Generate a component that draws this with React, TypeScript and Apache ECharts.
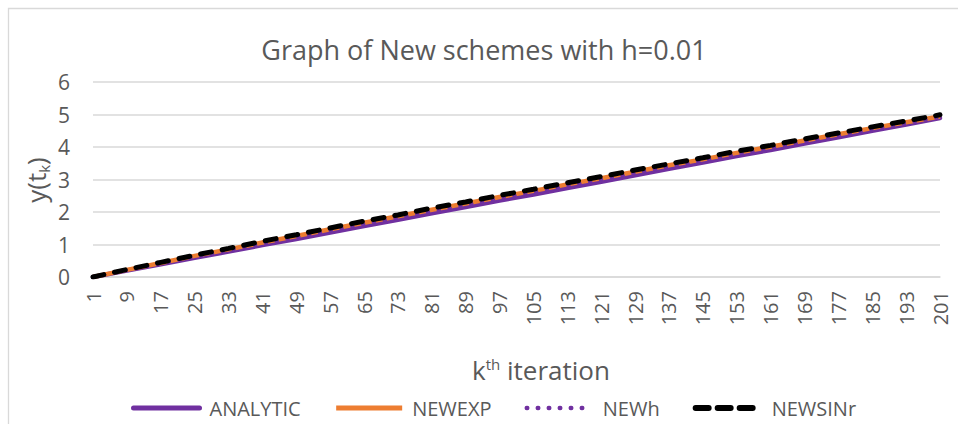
import React, { useEffect, useRef } from "react";
import * as echarts from "echarts";

// Iteration categories (k = 1 .. 201)
const CATEGORIES: string[] = Array.from({ length: 201 }, (_, i) => String(i + 1));

const SAMPLE_K: number[] = [1, 9, 17, 25, 33, 41, 49, 57, 65, 73, 81, 89, 97, 105, 113, 121, 129, 137, 145, 153, 161, 169, 177, 185, 193, 201];

const ANALYTIC: number[] = [0, 0.2, 0.39, 0.59, 0.78, 0.98, 1.17, 1.37, 1.57, 1.76, 1.96, 2.15, 2.35, 2.54, 2.74, 2.93, 3.13, 3.33, 3.52, 3.72, 3.91, 4.11, 4.3, 4.5, 4.69, 4.89];
const NEWEXP: number[] = [0, 0.22, 0.43, 0.65, 0.85, 1.06, 1.26, 1.47, 1.67, 1.87, 2.07, 2.26, 2.46, 2.65, 2.85, 3.04, 3.24, 3.44, 3.62, 3.82, 4.01, 4.2, 4.39, 4.58, 4.76, 4.94];
const NEWH: number[] = [0, 0.21, 0.41, 0.62, 0.82, 1.03, 1.22, 1.43, 1.63, 1.82, 2.02, 2.22, 2.42, 2.61, 2.81, 3.0, 3.19, 3.39, 3.58, 3.78, 3.97, 4.16, 4.35, 4.55, 4.73, 4.92];
const NEWSINR: number[] = [0, 0.23, 0.45, 0.67, 0.88, 1.1, 1.3, 1.51, 1.72, 1.91, 2.12, 2.31, 2.51, 2.7, 2.9, 3.09, 3.29, 3.48, 3.67, 3.87, 4.05, 4.25, 4.43, 4.62, 4.8, 4.99];

const Y_MIN = 0;
const Y_MAX = 6;
const Y_STEP = 1;

const FONT = "'Open Sans', 'Noto Sans', sans-serif";
const TEXT = "#595959";
const GRID = "#D9D9D9";
const PURPLE = "#7030A0";
const ORANGE = "#ED7D31";
const BLACK = "#000000";

const toPairs = (vals: number[]) => SAMPLE_K.map((k, i) => [String(k), vals[i]]);

export default function App() {
  const ref = useRef<HTMLDivElement>(null);

  useEffect(() => {
    if (!ref.current) return;
    const chart = echarts.init(ref.current, undefined, { renderer: "svg" });
    chart.setOption({
      animation: false,
      backgroundColor: "#ffffff",
      textStyle: { fontFamily: FONT },
      grid: { left: 93, right: 18, top: 82, bottom: 147, containLabel: false },
      xAxis: {
        type: "category",
        data: CATEGORIES,
        boundaryGap: false,
        axisLine: { show: true, lineStyle: { color: GRID, width: 1.5 } },
        axisTick: { show: false },
        axisLabel: {
          interval: 7,
          rotate: 90,
          color: TEXT,
          fontSize: 20,
          fontFamily: FONT,
          margin: 14,
        },
        splitLine: { show: false },
      },
      yAxis: {
        type: "value",
        min: Y_MIN,
        max: Y_MAX,
        interval: Y_STEP,
        axisLine: { show: false },
        axisTick: { show: false },
        axisLabel: { color: TEXT, fontSize: 21, fontFamily: FONT, margin: 23 },
        splitLine: { lineStyle: { color: GRID, width: 1.5 } },
      },
      legend: {
        left: 126,
        top: 393,
        itemWidth: 66,
        itemHeight: 14,
        itemGap: 33,
        itemStyle: { opacity: 0 },
        textStyle: { color: TEXT, fontSize: 20, fontFamily: FONT, padding: [0, 0, 0, 5] },
        data: [
          { name: "ANALYTIC", itemStyle: { opacity: 0 }, lineStyle: { color: PURPLE, width: 5, cap: "round" } },
          { name: "NEWEXP", itemStyle: { opacity: 0 }, lineStyle: { color: ORANGE, width: 5 } },
          { name: "NEWh", itemStyle: { opacity: 0 }, lineStyle: { color: PURPLE, width: 4.5, type: [0.5, 10.5], cap: "round" } },
          { name: "NEWSINr", itemStyle: { opacity: 0 }, lineStyle: { color: BLACK, width: 6, type: [13, 9], cap: "round" } },
        ],
      },
      graphic: [
        {
          type: "rect",
          silent: true,
          z: -10,
          shape: { x: 8.5, y: 8.5, width: 1200, height: 1200 },
          style: { fill: "none", stroke: GRID, lineWidth: 1.3 },
        },
        {
          type: "text",
          x: 484,
          y: 49,
          style: {
            text: "Graph of New schemes with h=0.01",
            fill: TEXT,
            font: `27px ${FONT}`,
            textAlign: "center",
            textVerticalAlign: "middle",
          },
        },
        {
          type: "text",
          x: 541,
          y: 370,
          style: {
            text: "{a|k}{b|th}{a| iteration}",
            fill: TEXT,
            textAlign: "center",
            textVerticalAlign: "middle",
            rich: {
              a: { fontSize: 26, fontFamily: FONT, color: TEXT, lineHeight: 32, verticalAlign: "middle" },
              b: { fontSize: 15, fontFamily: FONT, color: TEXT, lineHeight: 15, verticalAlign: "top", padding: [2, 0, 0, 0] },
            },
          },
        },
        {
          type: "text",
          x: 36,
          y: 180,
          rotation: Math.PI / 2,
          style: {
            text: "{a|y(t}{b|k}{a|)}",
            fill: TEXT,
            textAlign: "center",
            textVerticalAlign: "middle",
            rich: {
              a: { fontSize: 26, fontFamily: FONT, color: TEXT, lineHeight: 30, verticalAlign: "middle" },
              b: { fontSize: 15, fontFamily: FONT, color: TEXT, lineHeight: 15, verticalAlign: "bottom" },
            },
          },
        },
      ],
      series: [
        {
          name: "ANALYTIC",
          type: "line",
          data: toPairs(ANALYTIC),
          symbol: "none",
          color: PURPLE,
          lineStyle: { color: PURPLE, width: 4.5, cap: "round" },
          z: 2,
        },
        {
          name: "NEWEXP",
          type: "line",
          data: toPairs(NEWEXP),
          symbol: "none",
          color: ORANGE,
          lineStyle: { color: ORANGE, width: 4.5 },
          z: 3,
        },
        {
          name: "NEWh",
          type: "line",
          data: toPairs(NEWH),
          symbol: "none",
          color: PURPLE,
          lineStyle: { color: PURPLE, width: 4, type: [0.5, 10.5], cap: "round" },
          z: 4,
        },
        {
          name: "NEWSINr",
          type: "line",
          data: toPairs(NEWSINR),
          symbol: "none",
          color: BLACK,
          lineStyle: { color: BLACK, width: 5, type: [11, 11], cap: "round" },
          z: 5,
        },
      ],
    });
    return () => chart.dispose();
  }, []);

  return (
    <div
      ref={ref}
      style={{ position: "absolute", left: 0, top: 0, width: 958, height: 424 }}
    />
  );
}
